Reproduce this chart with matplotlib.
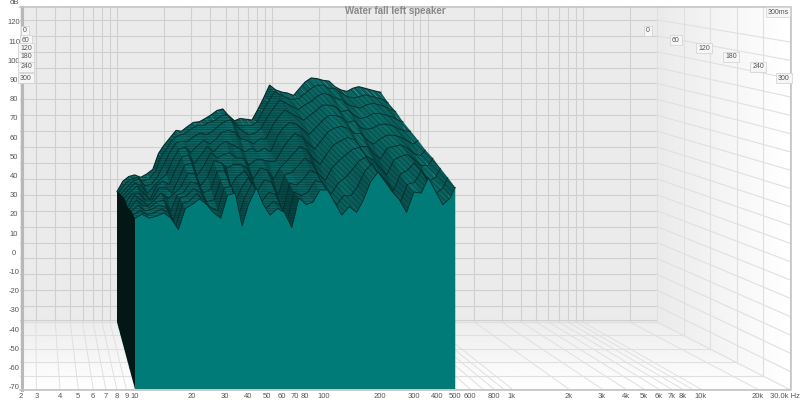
import numpy as np
import matplotlib
matplotlib.use("Agg")
import matplotlib.pyplot as plt
from matplotlib.colors import to_rgb
from matplotlib.patches import Polygon, Rectangle

plt.rcParams['font.family'] = ['Liberation Sans', 'DejaVu Sans']
plt.rcParams['hatch.linewidth'] = 0.3

# slices (dB at each frequency)
freqs = [10, 10.9, 11.9, 13, 14.2, 15.5, 17, 18.5, 20, 22, 24, 26, 28.5, 31, 34, 37, 40, 44, 48, 52, 57, 62, 68,
         74, 81, 88, 96, 105, 115, 125, 137, 150, 163, 178, 195, 212, 232, 253, 276, 302, 330, 360, 395, 430, 470, 500]
s000 = [12,18.5,21.5,22.5,21,23,26,36,41,46,50.5,50,53,55.5,56,58,60,63,64,60,56.5,58,57.5,57,64,71,79,76,74.6,74,72.5,77,81,83.5,83,82,81.5,78,76,75,77,78,77,76,75,74.5]
s030 = [14,19,22,23,21,22,27,36,41,47,49,50,53,55,55,57,58,61,62,59,55,55,55,57,64,70,76,74,72,71,72,75,78,80,80,78,78,75,73,72,73,74,73,72,71,69]
s060 = [15,19,23,24,20,21,26,33,40,46,47,47,50,52,51,53,56,59,60,56,53,51,52,55,62,67,72,70,68,66,69,71,74,76,75,73,72,69,68,67,69,70,69,68,66,65]
s090 = [16,20,24,22,18,22,26,29,37,44,45,42,46,49,47,50,54,55,54,50,49,47,50,50,58,63,67,65,63,61,64,67,70,70,69,66,67,64,62,63,65,65,64,63,61,60]
s120 = [17,21,24,20,16,24,27,25,33,41,42,37,42,47,44,48,50,48,46,44,46,44,46,44,53,58,61,60,57,54,58,62,65,65,64,61,62,58,57,58,60,60,59,57,56,56]
s150 = [17,22,22,18,18,25,25,22,29,38,39,32,38,45,42,44,45,42,42,38,41,41,40,40,47,52,56,54,50,47,52,57,59,60,59,56,56,52,50,53,55,55,54,52,50,52]
s180 = [16,23,20,17,20,24,21,24,27,35,35,28,33,42,41,38,40,40,38,32,38,37,32,38,42,46,50,48,43,40,46,51,53,55,54,50,50,46,43,49,50,51,49,46,45,48]
s210 = [17,22,19,18,21,22,16,25,26,32,31,26,28,38,38,30,35,38,33,27,33,32,25,36,37,41,45,42,36,33,40,44,47,50,51,46,44,40,36,44,46,47,44,41,41,45]
s240 = [18,21,18,19,21,20,13,25,26,30,28,23,24,35,35,22,30,36,29,23,28,27,18,33,32,35,40,38,31,27,33,36,40,45,47,42,38,34,29,38,40,44,39,34,36,41]
s270 = [18,20,18,19,21,19,12,24,25,29,26,22,20,32,33,17,27,35,27,21,25,23,15,30,28,30,36,35,28,23,28,28,33,41,45,39,34,30,24,34,35,41,35,29,32,37.6]
s300 = [18,20,18,19,20.7,18,12,23,25,28,25,21,18,30,31,14,25,33.7,25,19.6,23,21,13,28.5,25,26.4,32.7,32.7,26,19.6,24,21,27.5,37,42,37,31.6,27.5,21,31.6,31,39,31.6,25,28.5,34]
slices = [s000, s030, s060, s090, s120, s150, s180, s210, s240, s270, s300]

db_ticks = list(range(-70, 130, 10))
grid_freqs = [3, 4, 5, 6, 7, 8, 9, 10, 20, 30, 40, 50, 60, 70, 80, 90, 100, 200, 300, 400, 500, 600, 700, 800, 900,
              1000, 2000, 3000, 4000, 5000, 6000, 7000, 8000, 9000, 10000, 20000]
freq_labels = ["2", "3", "4", "5", "6", "7", "8", "9", "10", "20", "30", "40", "50", "60", "70", "80", "100",
               "200", "300", "400", "500", "600", "800", "1k", "2k", "3k", "4k", "5k", "6k", "7k", "8k", "10k", "20k"]
freq_label_vals = [2, 3, 4, 5, 6, 7, 8, 9, 10, 20, 30, 40, 50, 60, 70, 80, 100, 200, 300, 400, 500, 600, 800, 1000,
                   2000, 3000, 4000, 5000, 6000, 7000, 8000, 10000, 20000]
time_labels = ["0", "60", "120", "180", "240", "300"]
time_y = [31, 40, 48, 57, 67, 78]
time_xr = [648, 676, 704, 731, 758, 784]
time_xl = [25, 26, 26, 26, 26, 26]


# 3d projection, depth 0 = back wall, 1 = front
def xback(f):
    return 117 + 155.3 * np.log10(np.asarray(f, dtype=float) / 10)

def xfront(f):
    return 135 + 188.5 * np.log10(np.asarray(f, dtype=float) / 10)

def yback(db):
    return 210.7 - 1.59 * np.asarray(db, dtype=float)

def yfront(db):
    return 252.7 - 1.92 * np.asarray(db, dtype=float)


fig = plt.figure(figsize=(8, 4.01), dpi=100)
ax = fig.add_axes([0, 0, 1, 1])
ax.set_xlim(0, 800)
ax.set_ylim(401, 0)
ax.axis('off')

L, R, T, B = 20, 791, 7, 390
YFLOOR_BACK, YFLOOR_FRONT = 322, 389
XWALL = 657
frame = Rectangle((L, T), R - L, B - T, transform=ax.transData)

# walls and floor
ax.add_patch(Rectangle((L, T), XWALL - L, YFLOOR_BACK - T, fc='#ebebeb', ec='none', zorder=0))
ax.imshow(np.linspace(0.93, 1, 50).reshape(-1, 1), extent=(L, R, B, YFLOOR_BACK), cmap='gray', vmin=0, vmax=1,
          aspect='auto', zorder=0)
im2 = ax.imshow(np.linspace(0.92, 1, 50).reshape(1, -1), extent=(XWALL, R, B, T), cmap='gray', vmin=0, vmax=1,
                aspect='auto', zorder=0.1)
wall = Polygon([(XWALL, T), (R, T), (R, B), (XWALL, YFLOOR_BACK)], transform=ax.transData)
im2.set_clip_path(wall)
ax.set_xlim(0, 800)
ax.set_ylim(401, 0)

gc = '#d0d0d0'
gc2 = '#e0e0e0'
for d in db_ticks:
    y = yback(d)
    ax.plot([L, XWALL], [y, y], color=gc, lw=0.8, zorder=1, clip_path=frame)
    ax.plot([XWALL, 790], [y, 42 + (120 - d) * 1.83], color=gc2, lw=0.8, zorder=1, clip_path=frame)
for f in grid_freqs:
    x = xback(f)
    ax.plot([x, x], [T, YFLOOR_BACK], color=gc, lw=0.8, zorder=1)
    ax.plot([x, xfront(f)], [YFLOOR_BACK, YFLOOR_FRONT], color=gc2, lw=0.7, zorder=1, clip_path=frame)
ax.plot([L, XWALL], [320, 320], color=gc, lw=0.8, zorder=1)
for k in range(6):
    xw = XWALL + 133 * k / 5
    yw = YFLOOR_BACK + (YFLOOR_FRONT - YFLOOR_BACK) * k / 5
    ax.plot([L, xw], [yw, yw], color=gc2, lw=0.8, zorder=1)
    ax.plot([xw, xw], [T, yw], color=gc2, lw=0.8, zorder=1)

# surface: one quad per pair of read points, no extra values, shaded by how steep it is
n = len(slices)
xy = []
for i, s in enumerate(slices):
    depth = i / (n - 1)
    xy.append((xback(freqs) + depth * (xfront(freqs) - xback(freqs)), yback(s) + depth * (yfront(s) - yback(s))))

light = np.array(to_rgb('#0f7f7b'))
dark = np.array(to_rgb('#032f2e'))
line = '#042a29'
zo = 3
for i in range(1, n):
    x0, y0 = xy[i - 1]
    x1, y1 = xy[i]
    floor = YFLOOR_BACK + (i / (n - 1)) * (YFLOOR_FRONT - YFLOOR_BACK)
    for j in range(len(freqs) - 1):
        quad = [(x0[j], y0[j]), (x0[j + 1], y0[j + 1]), (x1[j + 1], y1[j + 1]), (x1[j], y1[j])]
        slope = ((y0[j + 1] - y0[j]) + (y1[j + 1] - y1[j])) / ((x0[j + 1] - x0[j]) + (x1[j + 1] - x1[j]))
        # faces turned to the right go dark, flat and left facing ones stay light
        shade = np.clip(0.25 + 0.38 * max(slope, 0) + 0.12 * max(-slope, 0), 0, 0.85)
        col = light + (dark - light) * shade
        hatch = '-------' if freqs[j] < 100 else '\\\\\\\\\\\\'
        ax.add_patch(Polygon(quad, fc=col, ec=dark, lw=0, hatch=hatch, zorder=zo))
    zo += 1
    pts = list(zip(x1, y1)) + [(x1[-1], floor), (x1[0], floor)]
    if i < n - 1:
        ax.add_patch(Polygon(pts, fc='#0a6a67', ec='none', zorder=zo - 0.5))
    else:
        ax.add_patch(Polygon(pts, fc='#007b78', ec='none', zorder=zo))
    ax.plot(x1, y1, color=line, lw=0.6, zorder=zo + 0.2)
ax.plot(xy[0][0], xy[0][1], color=line, lw=0.8, zorder=zo)

# dark end face at 10 Hz
face = [(xy[i][0][0], xy[i][1][0]) for i in range(n)] + [(xy[-1][0][0], YFLOOR_FRONT), (xy[0][0][0], YFLOOR_BACK)]
ax.add_patch(Polygon(face, fc='#031716', ec='none', zorder=zo + 1))

# frame
ax.plot([L + 1.5, L + 1.5], [T, B], color='#b8b8b8', lw=2.2, zorder=20)
ax.plot([L, R, R, L], [T, T, B, B], color='#c4c4c4', lw=1.2, zorder=20)

# text
tc = '#555555'
ax.text(395, 11, "Water fall left speaker", ha='center', va='center', fontsize=7, color='#8a8a8a', fontweight='bold', zorder=22)
ax.text(14, 3, "dB", ha='center', va='center', fontsize=5.5, color=tc)
for d in db_ticks:
    ax.text(14, yfront(d) + 0.5, str(d), ha='center', va='center', fontsize=5.5, color=tc)
for lab, val in zip(freq_labels, freq_label_vals):
    ax.text(max(xfront(val), 21), 396, lab, ha='center', va='center', fontsize=5.5, color=tc)
ax.text(800, 396, "30.0k Hz", ha='right', va='center', fontsize=5.5, color=tc)
box = dict(boxstyle='square,pad=0.25', fc='#f6f6f6', ec='#d0d0d0', lw=0.5)
for lab, y, xr, xl in zip(time_labels, time_y, time_xr, time_xl):
    ax.text(xr, y, lab, ha='center', va='center', fontsize=5, color=tc, bbox=box, zorder=21)
    ax.text(xl, y, lab, ha='center', va='center', fontsize=5, color=tc, bbox=box, zorder=21)
ax.text(778, 12, "300ms", ha='center', va='center', fontsize=5, color=tc, bbox=box, zorder=21)

fig.savefig("out.png", dpi=100)
